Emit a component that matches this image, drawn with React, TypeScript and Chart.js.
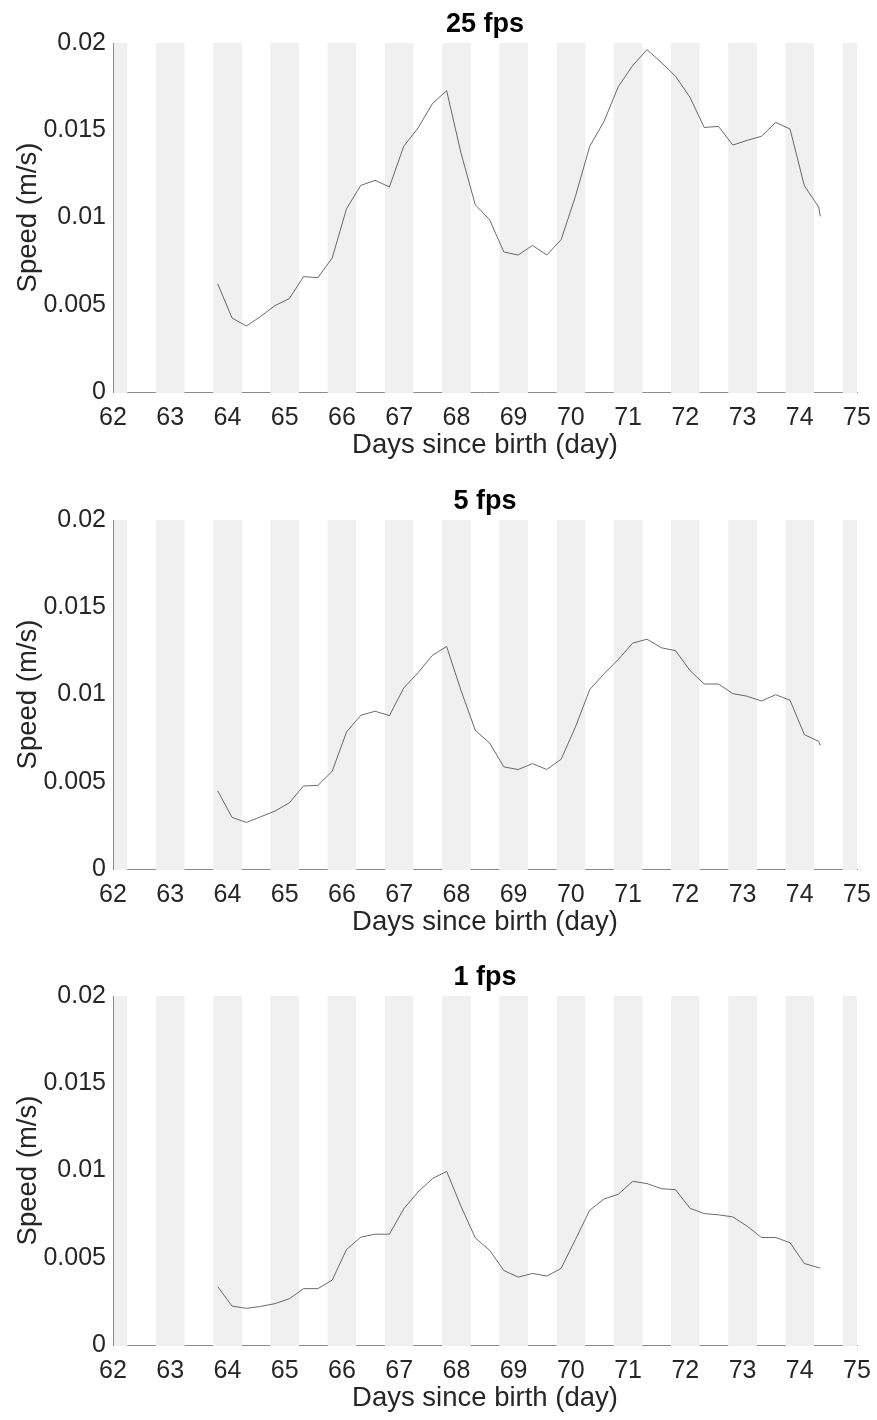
import React, { useEffect, useRef } from 'react';
import { Chart, registerables } from 'chart.js';

Chart.register(...registerables);

// ---- Data ----
const days = [
  63.83, 64.08, 64.33, 64.58, 64.83, 65.08, 65.33, 65.58, 65.83, 66.08, 66.33,
  66.58, 66.83, 67.08, 67.33, 67.58, 67.83, 68.08, 68.33, 68.58, 68.83, 69.08,
  69.33, 69.58, 69.83, 70.08, 70.33, 70.58, 70.83, 71.08, 71.33, 71.58, 71.83,
  72.08, 72.33, 72.58, 72.83, 73.08, 73.33, 73.58, 73.83, 74.08, 74.33, 74.36,
];

const speed25fps = [
  0.0062, 0.00424, 0.00378, 0.00433, 0.00495, 0.00535, 0.00661, 0.00655, 0.00768, 0.0105, 0.01184,
  0.01213, 0.01175, 0.01408, 0.01513, 0.01652, 0.01727, 0.0137, 0.01073, 0.00987, 0.00802, 0.00785,
  0.0084, 0.00785, 0.00873, 0.01121, 0.01408, 0.01551, 0.01751, 0.0187, 0.01962, 0.01889, 0.01809,
  0.0169, 0.01516, 0.01522, 0.01415, 0.01442, 0.01465, 0.01545, 0.01507, 0.01182, 0.0106, 0.01006,
];

const speed5fps = [
  0.00448, 0.00296, 0.00267, 0.00299, 0.00332, 0.00379, 0.00476, 0.00479, 0.0056, 0.00785, 0.00881,
  0.00904, 0.00879, 0.01037, 0.01125, 0.01224, 0.01275, 0.01024, 0.00795, 0.00722, 0.00585, 0.0057,
  0.00604, 0.0057, 0.00629, 0.00814, 0.01028, 0.01119, 0.01201, 0.01294, 0.01317, 0.01268, 0.01251,
  0.01138, 0.0106, 0.0106, 0.01005, 0.0099, 0.00963, 0.00999, 0.00967, 0.0077, 0.00732, 0.00709,
];

const speed1fps = [
  0.00334, 0.00223, 0.0021, 0.00221, 0.00237, 0.00265, 0.00323, 0.00323, 0.00372, 0.00547, 0.00618,
  0.00635, 0.00635, 0.0078, 0.00877, 0.00953, 0.00995, 0.00795, 0.00614, 0.00543, 0.00427, 0.00389,
  0.0041, 0.00395, 0.00439, 0.00605, 0.00772, 0.00837, 0.00864, 0.00938, 0.00925, 0.00896, 0.0089,
  0.00784, 0.00753, 0.00746, 0.00734, 0.00681, 0.00616, 0.00616, 0.00586, 0.00467, 0.00443, 0.00441,
];

const nightStart = [61.75, 62.75, 63.75, 64.75, 65.75, 66.75, 67.75, 68.75, 69.75, 70.75, 71.75, 72.75, 73.75, 74.75];
const nightEnd = [62.25, 63.25, 64.25, 65.25, 66.25, 67.25, 68.25, 69.25, 70.25, 71.25, 72.25, 73.25, 74.25, 75.25];

const xTicks = [62, 63, 64, 65, 66, 67, 68, 69, 70, 71, 72, 73, 74, 75];
const xTickLabels = ['62', '63', '64', '65', '66', '67', '68', '69', '70', '71', '72', '73', '74', '75'];
const yTicks = [0, 0.005, 0.01, 0.015, 0.02];
const yTickLabels = ['0', '0.005', '0.01', '0.015', '0.02'];

const panelTitles = ['25 fps', '5 fps', '1 fps'];
const panelSeries = [speed25fps, speed5fps, speed1fps];

// ---- Styles / layout ----
const FONT = "'Liberation Sans', Arial, Helvetica, sans-serif";
const TEXT_COLOR = '#262626';
const AXIS_COLOR = '#8a8a8a';
const LINE_COLOR = '#505050';
const BAND_COLOR = '#f0f0f0';
const WIDTH = 877;
const PLOT_TOP = 43;
const PLOT_BOTTOM = 392;
const TITLE_SIZE = 27;
const panelTops = [0, 477, 953];
const panelHeights = [477, 476, 467];

const nightBands = {
  id: 'nightBands',
  beforeDatasetsDraw(chart: any) {
    const { ctx, chartArea, scales } = chart;
    const x = scales.x;
    const y = scales.y;
    ctx.save();
    ctx.beginPath();
    ctx.rect(chartArea.left + 1, chartArea.top, chartArea.right - chartArea.left - 1, chartArea.bottom - chartArea.top + 1);
    ctx.clip();
    ctx.fillStyle = BAND_COLOR;
    const yTop = y.getPixelForValue(yTicks[yTicks.length - 1]);
    const yBot = y.getPixelForValue(0) + 1;
    nightStart.forEach((s, i) => {
      const x0 = x.getPixelForValue(s);
      const x1 = x.getPixelForValue(nightEnd[i]);
      ctx.fillRect(x0, yTop, x1 - x0, yBot - yTop);
    });
    ctx.restore();
  },
};

function Panel({ index }: { index: number }) {
  const ref = useRef<HTMLCanvasElement>(null);
  const height = panelHeights[index];
  useEffect(() => {
    const values = panelSeries[index];
    const titleLine = TITLE_SIZE * 1.2;
    const chart = new Chart(ref.current as HTMLCanvasElement, {
      type: 'line',
      data: {
        datasets: [
          {
            data: days.map((d, i) => ({ x: d, y: values[i] })),
            borderColor: LINE_COLOR,
            borderWidth: 0.85,
            pointRadius: 0,
            fill: false,
            tension: 0,
          },
        ],
      },
      options: {
        animation: false,
        responsive: false,
        devicePixelRatio: 1,
        layout: { padding: { left: 0, right: 20, top: 0, bottom: 0 } },
        plugins: {
          legend: { display: false },
          tooltip: { enabled: false },
          title: {
            display: true,
            text: panelTitles[index],
            fullSize: false,
            color: '#000000',
            font: { family: FONT, size: TITLE_SIZE, weight: 'bold', lineHeight: 1.2 },
            padding: { top: 8, bottom: PLOT_TOP - 8 - titleLine },
          },
        },
        scales: {
          x: {
            type: 'linear',
            min: 62,
            max: 75,
            afterBuildTicks: (s: any) => {
              s.ticks = xTicks.map((v) => ({ value: v }));
            },
            afterFit: (s: any) => {
              s.height = height - PLOT_BOTTOM;
              s.paddingLeft = 0;
              s.paddingRight = 0;
            },
            ticks: {
              autoSkip: false,
              maxRotation: 0,
              minRotation: 0,
              padding: 11,
              color: TEXT_COLOR,
              font: { family: FONT, size: 25 },
              callback: (v: any) => xTickLabels[xTicks.indexOf(Number(v))] ?? '',
            },
            grid: { display: false, drawTicks: false },
            border: { display: true, color: AXIS_COLOR, width: 1 },
            title: {
              display: true,
              text: 'Days since birth (day)',
              color: TEXT_COLOR,
              font: { family: FONT, size: 27.5, lineHeight: 1.2 },
              padding: { top: 0, bottom: height - 445.5 - 16.5 },
            },
          },
          y: {
            type: 'linear',
            min: 0,
            max: 0.02,
            afterBuildTicks: (s: any) => {
              s.ticks = yTicks.map((v) => ({ value: v }));
            },
            afterFit: (s: any) => {
              s.width = 113;
            },
            ticks: {
              padding: 7,
              color: TEXT_COLOR,
              font: { family: FONT, size: 25 },
              callback: (v: any) => {
                const k = yTicks.findIndex((t) => Math.abs(t - Number(v)) < 1e-9);
                return k >= 0 ? yTickLabels[k] : '';
              },
            },
            grid: { display: false, drawTicks: false },
            border: { display: true, color: AXIS_COLOR, width: 1 },
            title: {
              display: true,
              text: 'Speed (m/s)',
              color: TEXT_COLOR,
              font: { family: FONT, size: 27.5, lineHeight: 1.2 },
              padding: { top: 12, bottom: 0 },
            },
          },
        },
      } as any,
      plugins: [nightBands],
    });
    return () => chart.destroy();
  }, [index, height]);
  return (
    <canvas
      ref={ref}
      width={WIDTH}
      height={height}
      style={{ position: 'absolute', left: 0, top: panelTops[index], display: 'block' }}
    />
  );
}

export default function App() {
  return (
    <div
      style={{
        position: 'absolute',
        left: 0,
        top: 0,
        width: WIDTH,
        height: 1420,
        overflow: 'hidden',
        background: '#ffffff',
      }}
    >
      <Panel index={0} />
      <Panel index={1} />
      <Panel index={2} />
    </div>
  );
}
